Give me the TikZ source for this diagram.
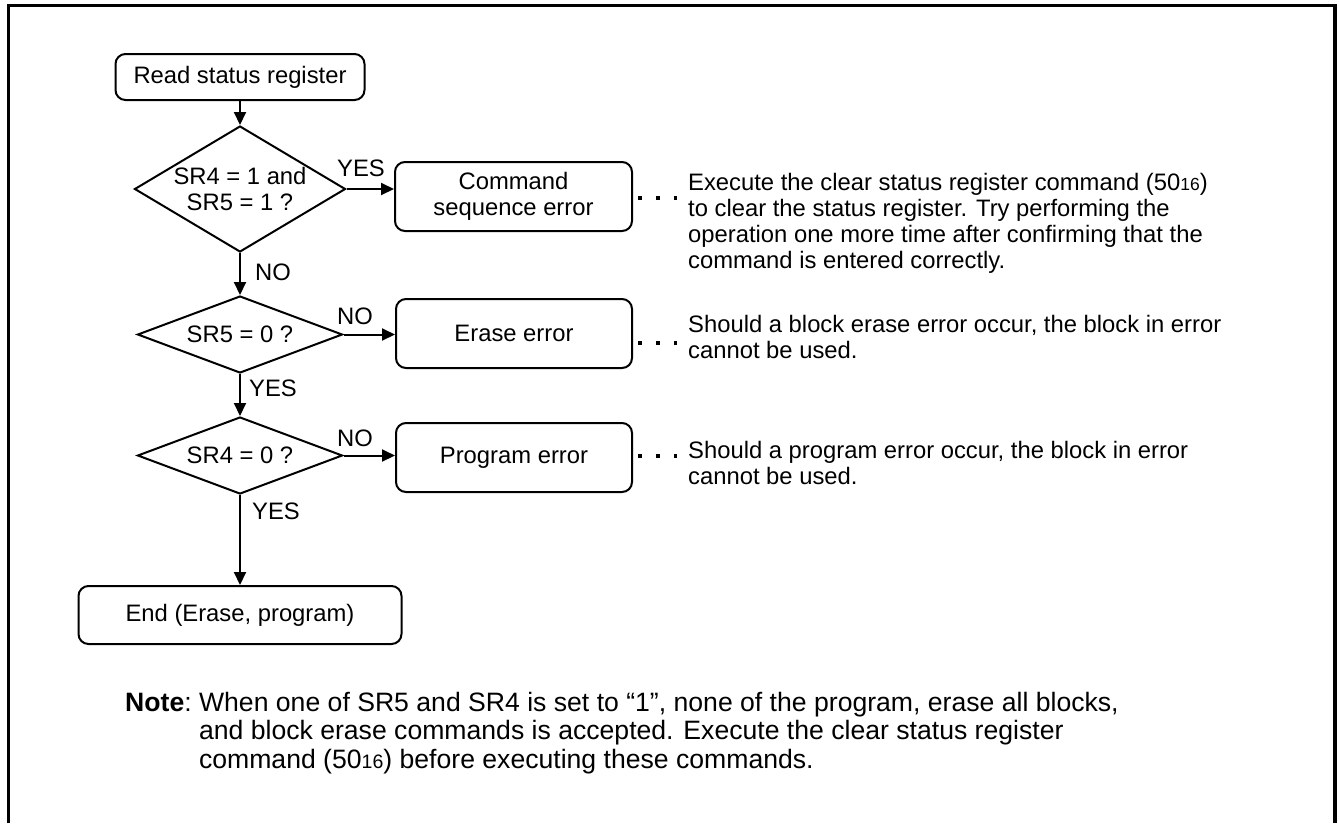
\documentclass[tikz,border=0pt]{standalone}
\usepackage{fontspec}
\setmainfont{Liberation Sans}
\usetikzlibrary{shapes.geometric,arrows.meta}
\newcommand\dfont{\fontsize{23.8}{26}\selectfont}
\newcommand\nfont{\fontsize{26.6}{28.5}\selectfont}
\newcommand\dsub[1]{{\fontsize{17.5}{17.5}\selectfont #1}}
\newcommand\nsub[1]{{\fontsize{19.5}{19.5}\selectfont #1}}
\begin{document}
\begin{tikzpicture}[x=1pt,y=-1pt,
  box/.style={draw, line width=2pt, rounded corners=10pt, inner sep=0pt, align=center, font=\dfont},
  dia/.style={draw, diamond, line width=2pt, inner sep=0pt, align=center, font=\dfont},
  arr/.style={line width=2pt, -{Triangle[length=13pt,width=12pt]}},
  lbl/.style={inner sep=0pt, font=\dfont},
  txt/.style={anchor=base west, inner sep=0pt, font=\dfont},
  dotline/.style={line width=3.5pt, dash pattern=on 3.5pt off 14.5pt},
]
\useasboundingbox (0,0) rectangle (1339,823);
\draw[line width=3pt] (8,823) -- (8,5.5) -- (1335,5.5);
\draw[line width=4.5pt] (1335,4) -- (1335,823);

% nodes
\node[box, minimum width=249pt, minimum height=46pt] (read) at (240,77) {Read status register};
\node[dia, shape aspect=1.675, minimum width=211pt, minimum height=126pt] (d1) at (240,189) {SR4 = 1 and\\SR5 = 1 ?};
\node[box, minimum width=237pt, minimum height=69pt] (cmd) at (513.5,196.5) {Command\\sequence error};
\node[dia, shape aspect=2.66, minimum width=205pt, minimum height=77pt] (d2) at (240,334.5) {SR5 = 0 ?};
\node[box, minimum width=236pt, minimum height=69pt] (err) at (514,333.5) {Erase error};
\node[dia, shape aspect=2.66, minimum width=205pt, minimum height=77pt] (d3) at (240,455.5) {SR4 = 0 ?};
\node[box, minimum width=236pt, minimum height=69pt] (prog) at (514,457.5) {Program error};
\node[box, minimum width=323pt, minimum height=58pt] (end) at (240,615) {End (Erase, program)};

% labels
\node[lbl] (yes1) at (361,168) {YES};
\node[lbl] (no1) at (273,272) {NO};
\node[lbl] (no2) at (355,316) {NO};
\node[lbl] (yes2) at (273,388) {YES};
\node[lbl] (no3) at (355,438) {NO};
\node[lbl] (yes3) at (276,511) {YES};

% connectors
\draw[arr] (read.south) -- (d1.north);
\draw[arr] (d1.east) -- (d1.east -| cmd.west);
\draw[arr] (d1.south) -- (d2.north);
\draw[arr] (d2.east) -- (d2.east -| err.west);
\draw[arr] (d2.south) -- (d3.north);
\draw[arr] (d3.east) -- (d3.east -| prog.west);
\draw[arr] (d3.south) -- (end.north);

% explanation texts
\node[txt] (t1) at (688,190) {\begin{tabular}[t]{@{}l@{}}Execute the clear status register command (50\dsub{16})\\to clear the status register. Try performing the\\operation one more time after confirming that the\\command is entered correctly.\end{tabular}};
\node[txt] (t2) at (688,332) {\begin{tabular}[t]{@{}l@{}}Should a block erase error occur, the block in error\\cannot be used.\end{tabular}};
\node[txt] (t3) at (688,458) {\begin{tabular}[t]{@{}l@{}}Should a program error occur, the block in error\\cannot be used.\end{tabular}};

% dotted leaders
\coordinate (c1) at (677,198);
\coordinate (c2) at (677,343);
\coordinate (c3) at (677,456);
\draw[dotline] ([xshift=5pt]cmd.east |- c1) -- (c1);
\draw[dotline] ([xshift=5pt]err.east |- c2) -- (c2);
\draw[dotline] ([xshift=5pt]prog.east |- c3) -- (c3);

% note
\node[anchor=base west, inner sep=0pt, font=\nfont] (note) at (125,711) {\begin{tabular}[t]{@{}l@{\ }l@{}}\textbf{Note}: & When one of SR5 and SR4 is set to “1”, none of the program, erase all blocks,\\ & and block erase commands is accepted. Execute the clear status register\\ & command (50\nsub{16}) before executing these commands.\end{tabular}};
\end{tikzpicture}
\end{document}
